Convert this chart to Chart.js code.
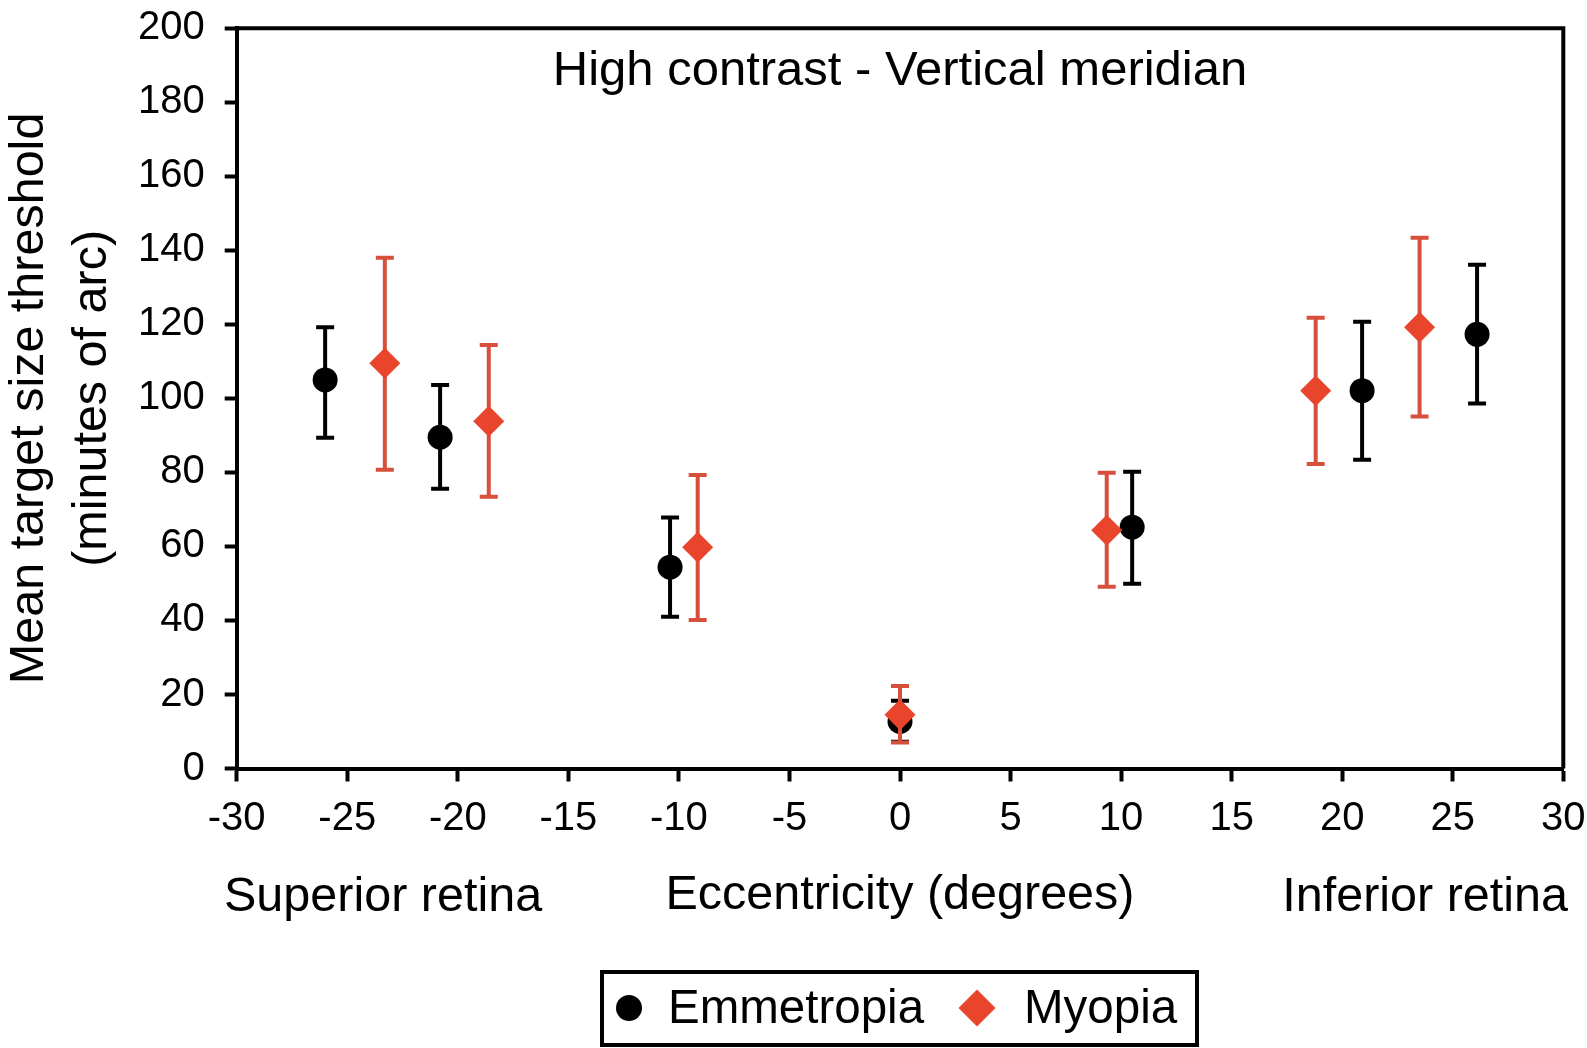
<!DOCTYPE html>
<html>
<head>
<meta charset="utf-8">
<title>High contrast - Vertical meridian</title>
<script src="https://cdn.jsdelivr.net/npm/chart.js@4.4.1/dist/chart.umd.min.js"></script>
<style>
html, body { margin: 0; padding: 0; background: #fff; overflow: hidden; }
#wrap { width: 1587px; height: 1048px; position: relative; }
</style>
</head>
<body>
<div id="wrap"><canvas id="chart"></canvas></div>
<script>
// values (eccentricity in degrees, threshold in minutes of arc)
var seriesNames = ['Emmetropia', 'Myopia']

var emmX = [-26, -20.8, -10.4, 0, 10.5, 20.9, 26.1]
var emmY = [105, 89.5, 54.4, 12.7, 65.2, 102.1, 117.3]
var emmHi = [119.2, 103.6, 67.8, 18.3, 80.2, 120.7, 136.1]
var emmLo = [89.4, 75.6, 41.0, 7.2, 49.9, 83.4, 98.6]

var myoX = [-23.3, -18.6, -9.15, 0, 9.35, 18.8, 23.5]
var myoY = [109.5, 93.8, 59.8, 14.5, 64.4, 102.1, 119.2]
var myoHi = [138.0, 114.4, 79.3, 22.3, 79.9, 121.8, 143.4]
var myoLo = [80.7, 73.4, 40.1, 7.0, 49.1, 82.3, 95.1]

var xTicks = [-30, -25, -20, -15, -10, -5, 0, 5, 10, 15, 20, 25, 30]
var yTicks = [0, 20, 40, 60, 80, 100, 120, 140, 160, 180, 200]

var chartTitle = 'High contrast - Vertical meridian'
var xTitle = 'Eccentricity (degrees)'
var xLeftNote = 'Superior retina'
var xRightNote = 'Inferior retina'
var yTitle = ['Mean target size threshold', '(minutes of arc)']

var FONT = '"Liberation Sans", Arial, Helvetica, sans-serif'
var RED = '#e8452c'
var RED_BAR = '#d6503c'

function toPoints(xs, ys) {
    var pts = []
    for (var i = 0; i < xs.length; i++) {
        pts.push({x: xs[i], y: ys[i]})
    }
    return pts
}

// vertical error bars with caps, drawn just before the dataset's own markers
var errorBars = {
    id: 'errorBars',
    beforeDatasetDraw: function (chart, args) {
        var ds = chart.data.datasets[args.index]
        if (!ds.errHi) return
        var ctx = chart.ctx
        var xs = chart.scales.x
        var ys = chart.scales.y
        ctx.save()
        ctx.strokeStyle = ds.errColor
        ctx.lineWidth = 4
        for (var i = 0; i < ds.data.length; i++) {
            var px = xs.getPixelForValue(ds.data[i].x)
            var top = ys.getPixelForValue(ds.errHi[i])
            var bot = ys.getPixelForValue(ds.errLo[i])
            ctx.beginPath()
            ctx.moveTo(px, top)
            ctx.lineTo(px, bot)
            ctx.moveTo(px - 9, top)
            ctx.lineTo(px + 9, top)
            ctx.moveTo(px - 9, bot)
            ctx.lineTo(px + 9, bot)
            ctx.stroke()
        }
        ctx.restore()
    }
}

// top/right frame, inner title, side notes and boxed legend
var decorations = {
    id: 'decorations',
    afterDraw: function (chart) {
        var ctx = chart.ctx
        var a = chart.chartArea
        ctx.save()
        ctx.strokeStyle = '#000'
        ctx.lineWidth = 4
        ctx.beginPath()
        ctx.moveTo(a.left, a.top)
        ctx.lineTo(a.right, a.top)
        ctx.lineTo(a.right, a.bottom)
        ctx.stroke()

        ctx.fillStyle = '#000'
        ctx.textBaseline = 'middle'
        ctx.font = '49px ' + FONT
        ctx.textAlign = 'center'
        ctx.fillText(chartTitle, (a.left + a.right) / 2, a.top + 43)

        ctx.font = '48.5px ' + FONT
        ctx.textAlign = 'left'
        ctx.fillText(xLeftNote, 224, 898)
        ctx.textAlign = 'right'
        ctx.fillText(xRightNote, 1568, 898)

        // legend
        var ds = chart.data.datasets
        ctx.lineWidth = 4
        ctx.strokeRect(602, 972, 595, 73)
        ctx.fillStyle = ds[0].backgroundColor
        ctx.beginPath()
        ctx.arc(629, 1008, 13, 0, Math.PI * 2)
        ctx.fill()
        ctx.fillStyle = ds[1].backgroundColor
        ctx.beginPath()
        ctx.moveTo(977, 989.5)
        ctx.lineTo(995.5, 1008)
        ctx.lineTo(977, 1026.5)
        ctx.lineTo(958.5, 1008)
        ctx.closePath()
        ctx.fill()
        ctx.fillStyle = '#000'
        ctx.textAlign = 'left'
        ctx.font = '47.5px ' + FONT
        ctx.fillText(ds[0].label, 668, 1010)
        ctx.fillText(ds[1].label, 1024, 1010)
        ctx.restore()
    }
}

var ctx = document.getElementById('chart').getContext('2d')
var chart = new Chart(ctx, {
    type: 'scatter',
    data: {
        datasets: [
            {
                label: seriesNames[0],
                data: toPoints(emmX, emmY),
                errHi: emmHi,
                errLo: emmLo,
                errColor: '#000',
                pointStyle: 'circle',
                pointRadius: 12.5,
                pointHoverRadius: 12.5,
                backgroundColor: '#000',
                borderWidth: 0,
                order: 2
            },
            {
                label: seriesNames[1],
                data: toPoints(myoX, myoY),
                errHi: myoHi,
                errLo: myoLo,
                errColor: RED_BAR,
                pointStyle: 'rectRot',
                pointRadius: 15.5,
                pointHoverRadius: 15.5,
                backgroundColor: RED,
                borderWidth: 0,
                order: 1
            }
        ]
    },
    options: {
        responsive: true,
        maintainAspectRatio: false,
        animation: false,
        layout: {
            padding: {left: 0, top: 28.3, right: 23.7, bottom: 122.8}
        },
        plugins: {
            legend: {display: false},
            tooltip: {enabled: false},
            title: {display: false}
        },
        scales: {
            x: {
                type: 'linear',
                min: -30,
                max: 30,
                afterFit: function (scale) {
                    scale.height = 156.7
                    scale.paddingLeft = 0
                    scale.paddingRight = 0
                },
                afterBuildTicks: function (scale) {
                    scale.ticks = xTicks.map(function (v) { return {value: v} })
                },
                ticks: {
                    color: '#000',
                    padding: 13,
                    font: {family: FONT, size: 40},
                    callback: function (v) { return String(v) }
                },
                grid: {
                    drawOnChartArea: false,
                    drawTicks: true,
                    tickLength: 13,
                    tickWidth: 4,
                    tickColor: '#000'
                },
                border: {display: true, color: '#000', width: 4},
                title: {
                    display: true,
                    text: xTitle,
                    color: '#000',
                    font: {family: FONT, size: 48.5},
                    padding: 0
                }
            },
            y: {
                type: 'linear',
                min: 0,
                max: 200,
                afterFit: function (scale) {
                    scale.width = 236.7
                    scale.paddingTop = 0
                    scale.paddingBottom = 0
                },
                afterBuildTicks: function (scale) {
                    scale.ticks = yTicks.map(function (v) { return {value: v} })
                },
                ticks: {
                    color: '#000',
                    padding: 20,
                    font: {family: FONT, size: 40},
                    callback: function (v) { return String(v) }
                },
                grid: {
                    drawOnChartArea: false,
                    drawTicks: true,
                    tickLength: 12,
                    tickWidth: 4,
                    tickColor: '#000'
                },
                border: {display: true, color: '#000', width: 4},
                title: {
                    display: true,
                    text: yTitle,
                    color: '#000',
                    font: {family: FONT, size: 48.5, lineHeight: 1.3},
                    padding: {top: -2, bottom: 0}
                }
            }
        }
    },
    plugins: [errorBars, decorations]
})
</script>
</body>
</html>
